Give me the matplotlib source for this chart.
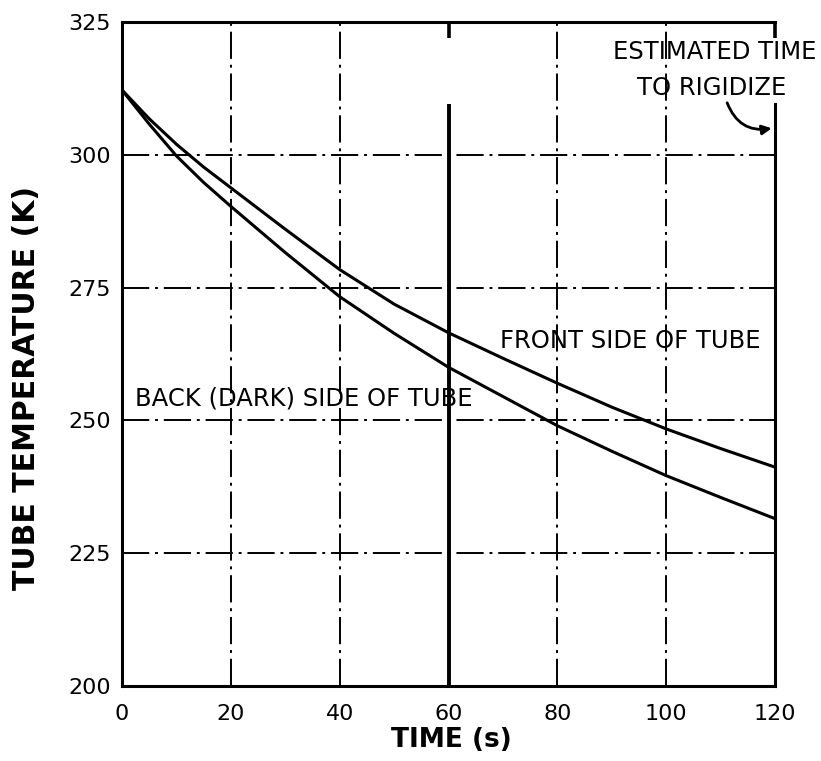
# -*- coding: utf-8 -*-

import matplotlib
matplotlib.use("Agg")
import matplotlib.pyplot as plt

# 時間 (s)
time_s = [0, 5, 10, 15, 20, 30, 40, 50, 60, 70, 80, 90, 100, 110, 120]
# 表側の温度 (K)
front_k = [312.2, 306.8, 302.0, 297.7, 293.8, 286.0, 278.4, 271.9, 266.5,
           261.7, 257.0, 252.5, 248.4, 244.7, 241.2]
# 裏側 (暗側) の温度 (K)
back_k = [312.2, 305.8, 299.8, 294.8, 290.3, 281.6, 273.3, 266.4, 260.0,
          254.5, 249.0, 244.2, 239.6, 235.5, 231.5]

x_ticks = [0, 20, 40, 60, 80, 100, 120]
y_ticks = [200, 225, 250, 275, 300, 325]
x_grid = [20, 40, 80, 100]
y_grid = [225, 250, 275, 300]
t_rigidize = 120
t_mid = 60

FONT = "DejaVu Sans"
NOTE_SIZE = 17.5
GRID_STYLE = (0, (14, 3, 1.5, 3))


def set_display(fig, ax):
    """軸・目盛り・枠線の設定"""
    fig.subplots_adjust(left=0.1486, right=0.944, bottom=0.0986, top=0.971)
    ax.set_xlim(x_ticks[0], x_ticks[-1])
    ax.set_ylim(y_ticks[0], y_ticks[-1])
    ax.set_xticks(x_ticks)
    ax.set_yticks(y_ticks)
    ax.tick_params(length=0, labelsize=16)
    ax.tick_params(axis="x", pad=13)
    ax.tick_params(axis="y", pad=8)

    for side in ["left", "bottom", "top", "right"]:
        ax.spines[side].set_linewidth(2.2)
    # 右側の枠線は注記の下で切れている
    ax.spines["right"].set_bounds(y_ticks[0], 309.5)


def main():
    fig = plt.figure(figsize=(8.21, 7.61), dpi=100)
    ax = fig.add_subplot(1, 1, 1)
    set_display(fig, ax)

    # 一点鎖線のグリッド
    for gx in x_grid:
        ax.axvline(gx, color="black", lw=1.4, linestyle=GRID_STYLE, zorder=1)
    for gy in y_grid:
        ax.axhline(gy, color="black", lw=1.4, linestyle=GRID_STYLE, zorder=1)

    # 60 s の実線
    ax.vlines(t_mid, y_ticks[0], 309.5, color="black", lw=2.8, zorder=2)
    ax.vlines([t_mid, t_rigidize], 322.0, y_ticks[-1], color="black", lw=2.6,
              zorder=2, clip_on=False)

    # 温度曲線
    ax.plot(time_s, front_k, color="black", lw=2.2, zorder=3)
    ax.plot(time_s, back_k, color="black", lw=2.2, zorder=3)

    # 注記
    ax.text(69.5, 265.0, "FRONT SIDE OF TUBE", fontsize=NOTE_SIZE,
            family=FONT, ha="left", va="center")
    ax.text(2.4, 254.2, "BACK (DARK) SIDE OF TUBE", fontsize=NOTE_SIZE,
            family=FONT, ha="left", va="center")
    ax.text(109.0, 319.4, "ESTIMATED TIME", fontsize=NOTE_SIZE, family=FONT,
            ha="center", va="center", clip_on=False)
    ax.text(108.4, 312.6, "TO RIGIDIZE", fontsize=NOTE_SIZE, family=FONT,
            ha="center", va="center")
    ax.annotate("", xy=(119.4, 305.0), xytext=(111.2, 309.8),
                arrowprops=dict(arrowstyle="-|>", color="black", lw=2.0,
                                mutation_scale=14,
                                connectionstyle="arc3,rad=0.4",
                                shrinkA=0, shrinkB=0))

    # 軸ラベル
    fig.text(451 / 821, 1 - 740 / 761, "TIME (s)", fontsize=19,
             fontweight="bold", family=FONT, ha="center", va="center")
    fig.text(27 / 821, 1 - 388 / 761, "TUBE TEMPERATURE (K)", fontsize=21.5,
             fontweight="bold", family=FONT,
             rotation=90, ha="center", va="center")

    fig.savefig("out.png", dpi=100)


if __name__ == '__main__':
    main()
